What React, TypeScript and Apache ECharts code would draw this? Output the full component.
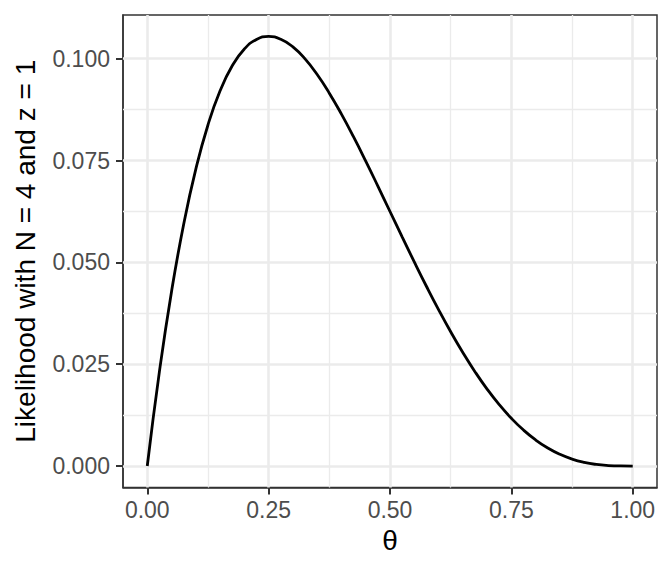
import React, { useEffect, useRef } from "react";
import * as echarts from "echarts";

const thetaValues = [0, 0.025, 0.05, 0.075, 0.1, 0.125, 0.15, 0.175, 0.2, 0.225, 0.25, 0.275, 0.3, 0.325, 0.35, 0.375, 0.4, 0.425, 0.45, 0.475, 0.5, 0.525, 0.55, 0.575, 0.6, 0.625, 0.65, 0.675, 0.7, 0.725, 0.75, 0.775, 0.8, 0.825, 0.85, 0.875, 0.9, 0.925, 0.95, 0.975, 1.0];
const likelihoodValues = [0, 0.023171, 0.042869, 0.059359, 0.0729, 0.08374, 0.092119, 0.098265, 0.1024, 0.104734, 0.105469, 0.104797, 0.1029, 0.099953, 0.096119, 0.091553, 0.0864, 0.080796, 0.074869, 0.068734, 0.0625, 0.056265, 0.050119, 0.04414, 0.0384, 0.032959, 0.027869, 0.023172, 0.0189, 0.015078, 0.011719, 0.008828, 0.0064, 0.004421, 0.002869, 0.001709, 0.0009, 0.00039, 0.000119, 0.0000152, 0];

const xTicks = [0, 0.25, 0.5, 0.75, 1.0];
const xMinor = [0.125, 0.375, 0.625, 0.875];
const yTicks = [0, 0.025, 0.05, 0.075, 0.1];
const yMinor = [0.0125, 0.0375, 0.0625, 0.0875];

const xTitle = "θ";
const yTitle = "Likelihood with N = 4 and z = 1";

export default function App() {
  const ref = useRef<HTMLDivElement>(null);
  useEffect(() => {
    const chart = echarts.init(ref.current!, null, { renderer: "svg" });
    const gridLine = (vals: number[], axis: "xAxis" | "yAxis", width: number, color: string) =>
      vals.map((v) => ({ [axis]: v, lineStyle: { color, width, type: "solid" } }));
    const font = "Liberation Sans, Arial, sans-serif";
    chart.setOption({
      animation: false,
      backgroundColor: "#ffffff",
      grid: {
        left: 123,
        right: 15,
        top: 15,
        bottom: 88.5,
        show: true,
        backgroundColor: "#ffffff",
        borderColor: "#333333",
        borderWidth: 1.5,
      },
      xAxis: {
        type: "value",
        min: -0.05,
        max: 1.05,
        name: xTitle,
        nameLocation: "middle",
        nameGap: 39,
        nameTextStyle: { fontSize: 28, color: "#000", fontFamily: font },
        axisLine: { show: true, onZero: false, lineStyle: { color: "#333333", width: 1.5 } },
        splitLine: { show: false },
        axisTick: { show: true, customValues: xTicks, length: 7, lineStyle: { color: "#333333", width: 2 } },
        axisLabel: {
          customValues: xTicks,
          formatter: (v: number) => v.toFixed(2),
          fontSize: 23,
          color: "#4d4d4d",
          margin: 11,
          fontFamily: font,
        },
      },
      yAxis: {
        type: "value",
        min: -0.00527,
        max: 0.11074,
        name: yTitle,
        nameLocation: "middle",
        nameGap: 84,
        nameTextStyle: { fontSize: 28, color: "#000", fontFamily: font },
        axisLine: { show: true, onZero: false, lineStyle: { color: "#333333", width: 1.5 } },
        splitLine: { show: false },
        axisTick: { show: true, customValues: yTicks, length: 7, lineStyle: { color: "#333333", width: 2 } },
        axisLabel: {
          customValues: yTicks,
          formatter: (v: number) => v.toFixed(3),
          fontSize: 23,
          color: "#4d4d4d",
          margin: 13,
          fontFamily: font,
        },
      },
      series: [
        {
          type: "line",
          data: [],
          z: 1,
          silent: true,
          markLine: {
            silent: true,
            symbol: "none",
            precision: 6,
            label: { show: false },
            animation: false,
            data: [
              ...gridLine(xMinor, "xAxis", 1.3, "#ebebeb"),
              ...gridLine(yMinor, "yAxis", 1.3, "#ebebeb"),
              ...gridLine(xTicks, "xAxis", 2.6, "#ebebeb"),
              ...gridLine(yTicks, "yAxis", 2.6, "#ebebeb"),
            ],
          },
        },
        {
          type: "line",
          z: 5,
          data: thetaValues.map((t, i) => [t, likelihoodValues[i]]),
          showSymbol: false,
          smooth: true,
          lineStyle: { color: "#000000", width: 2.8 },
        },
      ],
    });
    return () => chart.dispose();
  }, []);
  return <div ref={ref} style={{ width: 672, height: 576, margin: -8 }} />;
}
